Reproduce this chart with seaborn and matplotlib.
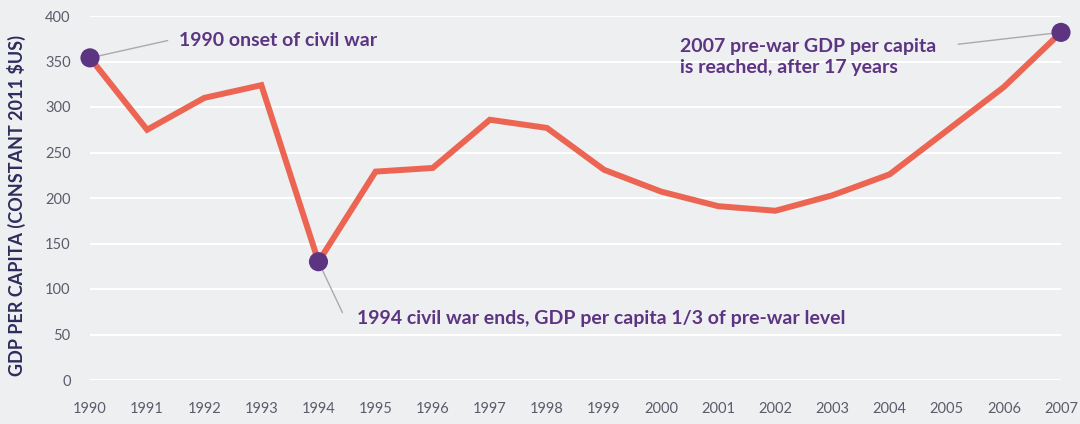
import matplotlib
matplotlib.use("Agg")
import matplotlib.pyplot as plt
import seaborn as sns
import pandas as pd

# Data
years = list(range(1990, 2008))
gdp_per_capita = [354, 275, 310, 324, 130, 229, 233, 286, 277, 231,
                  207, 191, 186, 203, 226, 274, 322, 382]
highlight_years = [1990, 1994, 2007]
y_ticks = [0, 50, 100, 150, 200, 250, 300, 350, 400]

BG = "#eeeff1"
LINE_COLOR = "#ec6552"
DOT_COLOR = "#5c3482"
TEXT_PURPLE = "#5c3482"
LABEL_NAVY = "#2d2c5c"
TICK_GRAY = "#5d5b6b"
LEADER_GRAY = "#aaaaaa"

df = pd.DataFrame({"year": years, "gdp": gdp_per_capita})
dots = df[df["year"].isin(highlight_years)]

sns.set_theme(style="white")
plt.rcParams["font.family"] = ["Lato", "DejaVu Sans"]

fig = plt.figure(figsize=(10.8, 4.24), dpi=100, facecolor=BG)
ax = fig.add_axes([90 / 1080, 44 / 424, 971 / 1080, 364 / 424])
ax.set_facecolor(BG)

sns.lineplot(data=df, x="year", y="gdp", color=LINE_COLOR, linewidth=4.3,
             ax=ax, zorder=3, solid_joinstyle="miter")
sns.scatterplot(data=dots, x="year", y="gdp", color=DOT_COLOR, s=190,
                edgecolor="none", ax=ax, zorder=4, clip_on=False)

ax.set_xlim(1990, 2007)
ax.set_ylim(0, 400)
ax.set_xticks(years)
ax.set_yticks(y_ticks)
ax.set_xticklabels([str(y) for y in years], fontsize=10.5, color=TICK_GRAY)
ax.set_yticklabels([str(v) for v in y_ticks], fontsize=10.5, color=TICK_GRAY)
ax.tick_params(axis="x", length=0, pad=16)
ax.tick_params(axis="y", length=0, pad=14)
ax.grid(axis="y", color="white", linewidth=1.5, zorder=0)
ax.set_axisbelow(True)
sns.despine(ax=ax, left=True, bottom=True)

ax.set_xlabel("")
ax.set_ylabel("GDP PER CAPITA (CONSTANT 2011 $US)", fontsize=13,
              fontweight="bold", color=LABEL_NAVY)
ax.yaxis.set_label_coords(-0.066, 0.48)

# Annotations with thin grey leader lines
ann_style = dict(fontsize=14, color=TEXT_PURPLE, fontweight="bold",
                 va="center", ha="left")

ax.text(1991.55, 373, "1990 onset of civil war", **ann_style)
ax.plot([1990, 1991.36], [354, 373], color=LEADER_GRAY, lw=1, zorder=2,
        clip_on=False)

ax.text(2000.33, 355, "2007 pre-war GDP per capita\nis reached, after 17 years",
        linespacing=1.3, **ann_style)
ax.plot([2007, 2005.2], [382, 369], color=LEADER_GRAY, lw=1, zorder=2,
        clip_on=False)

ax.text(1994.68, 68, "1994 civil war ends, GDP per capita 1/3 of pre-war level",
        **ann_style)
ax.plot([1994, 1994.42], [130, 74], color=LEADER_GRAY, lw=1, zorder=2)

fig.savefig("out.png", dpi=100, facecolor=BG)
